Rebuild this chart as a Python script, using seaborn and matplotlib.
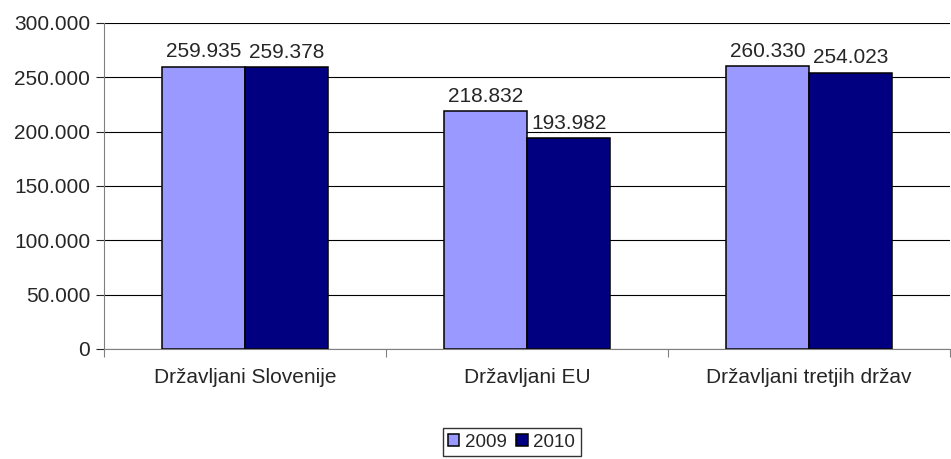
import numpy as np
import pandas as pd
import matplotlib
matplotlib.use("Agg")
import matplotlib.pyplot as plt
import seaborn as sns
from matplotlib.ticker import FuncFormatter, FixedLocator

categories = ["Državljani Slovenije", "Državljani EU", "Državljani tretjih držav"]
years = ["2009", "2010"]
values_2009 = [259935, 218832, 260330]
values_2010 = [259378, 193982, 254023]

df = pd.DataFrame({
    "kategorija": categories * 2,
    "leto": [years[0]] * 3 + [years[1]] * 3,
    "vrednost": values_2009 + values_2010,
})

sns.set_style("white")
plt.rcParams["font.family"] = ["Liberation Sans", "DejaVu Sans"]

def fmt(v, pos=None):
    return f"{int(round(v)):,}".replace(",", ".")

fig = plt.figure(figsize=(9.51, 4.59), dpi=100)
ax = fig.add_axes([0.1094, 0.2397, 0.8895, 0.7102])

sns.barplot(data=df, x="kategorija", y="vrednost", hue="leto",
            palette=["#9999FF", "#000080"], edgecolor="black", linewidth=1.1,
            width=0.59, gap=0, ax=ax, saturation=1)

for c in ax.containers:
    ax.bar_label(c, labels=[fmt(v) for v in c.datavalues], padding=4, fontsize=15)

ax.set_ylim(0, 300000)
ax.set_xlim(-0.5, 2.5)
ax.set_yticks(np.arange(0, 300001, 50000))
ax.yaxis.set_major_formatter(FuncFormatter(fmt))
ax.yaxis.grid(True, color="black", linewidth=0.8)
ax.set_axisbelow(True)
ax.tick_params(axis="y", left=True, length=6, width=0.8, labelsize=15, pad=4)
ax.tick_params(axis="x", which="major", length=0, labelsize=15, pad=14)
ax.xaxis.set_minor_locator(FixedLocator([-0.5, 0.5, 1.5, 2.5]))
ax.tick_params(axis="x", which="minor", bottom=True, length=6, width=0.8, color="gray")
ax.set_xlabel("")
ax.set_ylabel("")
for s in ["top", "right"]:
    ax.spines[s].set_visible(False)
ax.spines["left"].set_color("gray")
ax.spines["bottom"].set_color("gray")

handles, labels = ax.get_legend_handles_labels()
ax.legend_.remove()
fig.legend(handles, labels, loc="center", bbox_to_anchor=(0.538, 0.037), ncol=2,
           frameon=True, fancybox=False, edgecolor="black", fontsize=13.5,
           handlelength=0.6, handleheight=0.6, handletextpad=0.3, columnspacing=0.5,
           borderpad=0.3)

fig.savefig("out.png", dpi=100)
